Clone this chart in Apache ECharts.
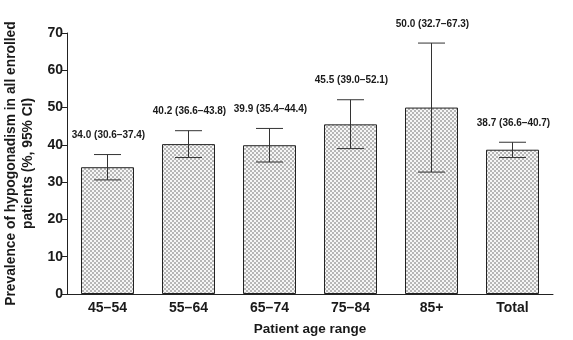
<!DOCTYPE html>
<html>
<head>
<meta charset="utf-8">
<style>html,body{margin:0;padding:0;background:#fff;}#c{width:573px;height:340px;}</style>
<script src="https://cdn.jsdelivr.net/npm/echarts@6/dist/echarts.min.js"></script>
</head>
<body>
<div id="c"></div>
<script>
const categories = ['45\u201354', '55\u201364', '65\u201374', '75\u201384', '85+', 'Total'];
const prevalence = [34.0, 40.2, 39.9, 45.5, 50.0, 38.7];
const ciLow = [30.6, 36.6, 35.4, 39.0, 32.7, 36.6];
const ciHigh = [37.4, 43.8, 44.4, 52.1, 67.3, 40.7];
const yTicks = [0, 10, 20, 30, 40, 50, 60, 70];

// dotted (checker) fill pattern
const pc = document.createElement('canvas');
pc.width = 4; pc.height = 4;
const pctx = pc.getContext('2d');
pctx.fillStyle = '#f6f6f6';
pctx.fillRect(0, 0, 4, 4);
pctx.fillStyle = '#b6b6b6';
pctx.fillRect(0, 0, 2, 2);
pctx.fillRect(2, 2, 2, 2);

const chart = echarts.init(document.getElementById('c'), null, {renderer: 'canvas'});
const font = 'Liberation Sans, Arial, sans-serif';
const txt = '#1a1a1a';

chart.setOption({
  animation: false,
  grid: {left: 67, right: 20, top: 33, bottom: 46, containLabel: false, outerBoundsMode: 'none'},
  xAxis: {
    type: 'category',
    data: categories,
    name: 'Patient age range',
    nameLocation: 'middle',
    nameGap: 28,
    nameTextStyle: {fontFamily: font, fontWeight: 'bold', fontSize: 13.5, color: txt},
    axisLine: {lineStyle: {color: '#222', width: 1}},
    axisTick: {alignWithLabel: true, length: 5, lineStyle: {color: '#222'}},
    axisLabel: {fontFamily: font, fontWeight: 'bold', fontSize: 14, color: txt, margin: 7}
  },
  yAxis: {
    type: 'value',
    min: 0, max: 70, interval: 10,
    name: 'Prevalence of hypogonadism in all enrolled\npatients (%, 95% CI)',
    nameLocation: 'middle',
    nameRotate: 90,
    nameGap: 25,
    nameTextStyle: {fontFamily: font, fontWeight: 'bold', fontSize: 13.8, color: txt, lineHeight: 17},
    axisLine: {show: true, lineStyle: {color: '#222', width: 1}},
    axisTick: {show: true, length: 5, lineStyle: {color: '#222'}},
    splitLine: {show: false},
    axisLabel: {fontFamily: font, fontWeight: 'bold', fontSize: 14, color: txt, margin: 4,
      formatter: v => yTicks.includes(v) ? String(v) : ''}
  },
  series: [
    {
      type: 'bar',
      data: prevalence,
      barWidth: 53,
      itemStyle: {color: {image: pc, repeat: 'repeat'}, borderColor: '#222', borderWidth: 1}
    },
    {
      type: 'custom',
      data: categories.map((c, i) => [i, ciLow[i], ciHigh[i], prevalence[i]]),
      renderItem: function (params, api) {
        const x = api.value(0);
        const lo = api.coord([x, api.value(1)]);
        const hi = api.coord([x, api.value(2)]);
        const half = 13.5;
        const style = {stroke: '#333', lineWidth: 1};
        const i = params.dataIndex;
        const label = prevalence[i].toFixed(1) + ' (' + ciLow[i].toFixed(1) + '\u2013' + ciHigh[i].toFixed(1) + ')';
        return {
          type: 'group',
          children: [
            {type: 'line', shape: {x1: hi[0], y1: hi[1], x2: lo[0], y2: lo[1]}, style: style},
            {type: 'line', shape: {x1: hi[0] - half, y1: hi[1], x2: hi[0] + half, y2: hi[1]}, style: style},
            {type: 'line', shape: {x1: lo[0] - half, y1: lo[1], x2: lo[0] + half, y2: lo[1]}, style: style},
            {type: 'text', x: hi[0] + 1, y: hi[1] - 19,
              style: {text: label, fill: txt, font: 'bold 10px ' + font, align: 'center', verticalAlign: 'middle'}}
          ]
        };
      },
      z: 10
    }
  ]
});
</script>
</body>
</html>
